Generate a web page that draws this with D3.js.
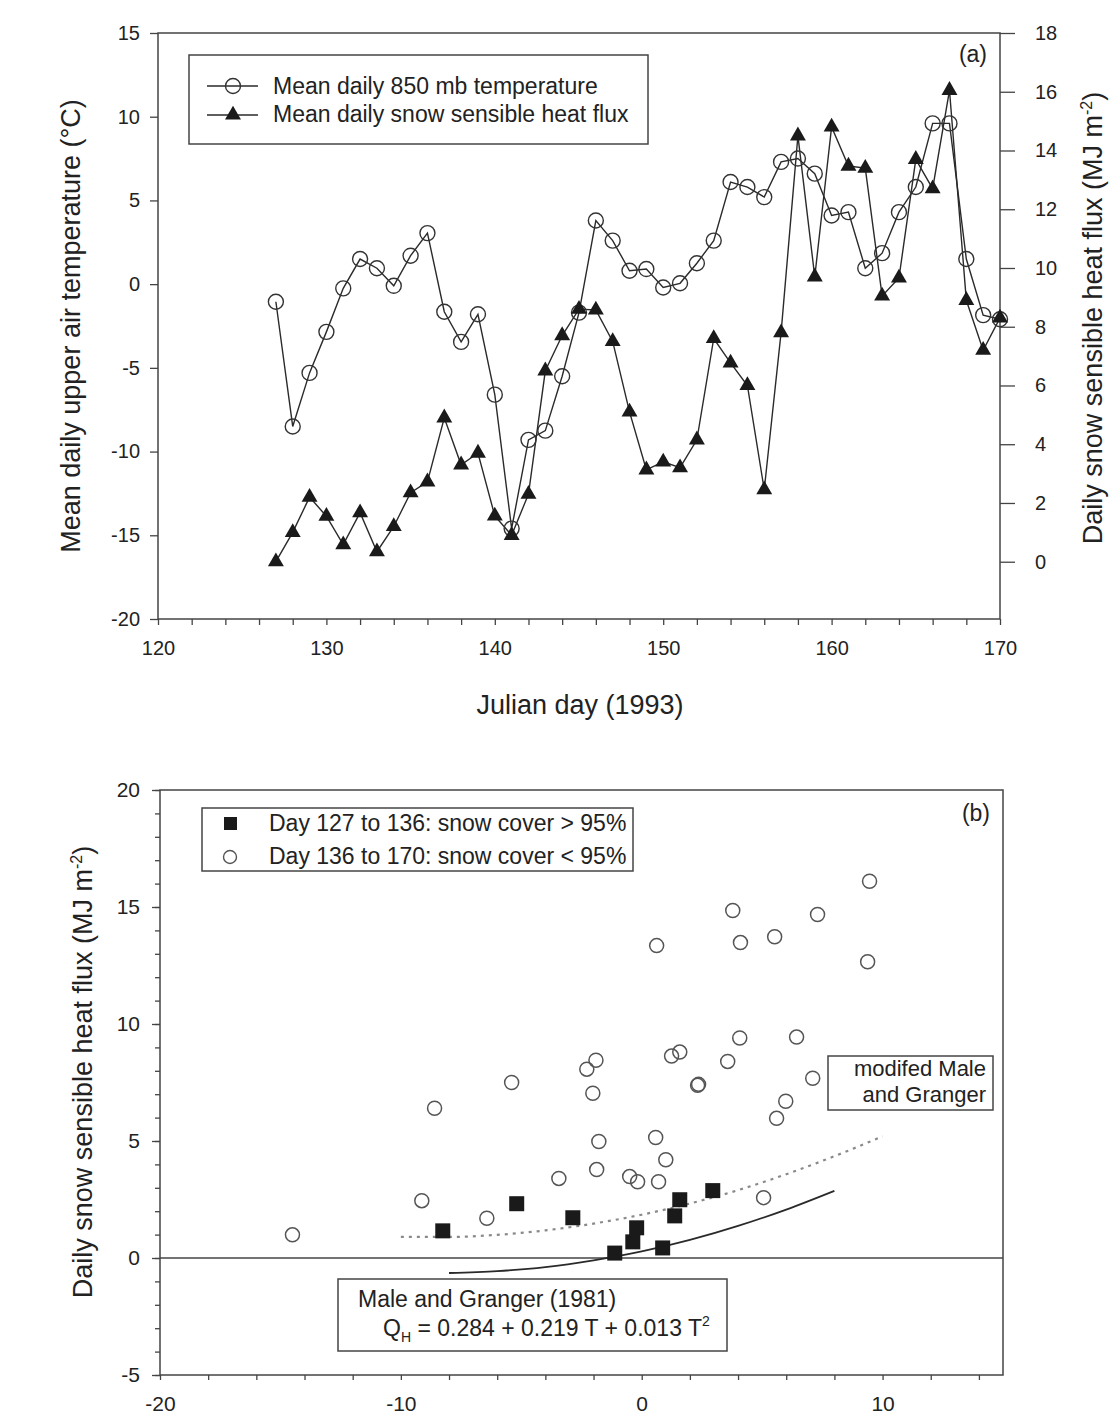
<!DOCTYPE html>
<html>
<head>
<meta charset="utf-8">
<script src="https://cdn.jsdelivr.net/npm/d3@7"></script>
<style>
  body { margin: 0; background: #fff; }
  svg text { font-family: "Liberation Sans", Arial, sans-serif; fill: #222; }
</style>
</head>
<body>
<div id="chart"></div>
<script>
// --- panel (a): daily series, Julian day 127..170 (1993)
const days = [127,128,129,130,131,132,133,134,135,136,137,138,139,140,141,142,143,144,145,146,147,148,
              149,150,151,152,153,154,155,156,157,158,159,160,161,162,163,164,165,166,167,168,169,170];
const temp850 = [-1.05,-8.5,-5.3,-2.85,-0.25,1.5,0.95,-0.1,1.7,3.05,-1.65,-3.45,-1.8,-6.6,-14.6,-9.3,-8.75,-5.5,
                 -1.7,3.8,2.6,0.8,0.9,-0.2,0.05,1.25,2.6,6.1,5.8,5.2,7.3,7.5,6.6,4.1,4.3,0.95,1.85,4.3,5.8,9.6,9.6,1.5,-1.85,-2.1];
const fluxDaily = [0.0,1.0,2.2,1.55,0.58,1.67,0.34,1.2,2.35,2.72,4.9,3.3,3.7,1.56,0.9,2.3,6.5,7.7,8.6,8.57,7.5,5.1,
                   3.13,3.4,3.2,4.15,7.6,6.77,6.0,2.45,7.8,14.5,9.7,14.8,13.47,13.4,9.05,9.66,13.7,12.7,16.05,8.9,7.2,8.3];

const ticksDayA = [120,130,140,150,160,170];
const ticksTempA = [-20,-15,-10,-5,0,5,10,15];
const ticksFluxA = [0,2,4,6,8,10,12,14,16,18];

// --- panel (b): scatter of flux vs temperature
const snowHighT = [-8.26,-5.19,-2.86,-1.12,-0.37,-0.21,0.87,1.37,1.58,2.95];
const snowHighQ = [1.16,2.32,1.72,0.21,0.69,1.29,0.43,1.8,2.49,2.88];
const snowLowT = [-14.5,-9.13,-8.6,-6.43,-5.4,-3.44,-2.28,-2.03,-1.9,-1.87,-1.78,-0.5,-0.17,0.58,0.62,0.7,1.0,
                  1.24,1.58,2.32,2.36,3.57,3.78,4.07,4.1,5.06,5.52,5.6,5.98,6.43,7.1,7.3,9.38,9.46];
const snowLowQ = [0.99,2.45,6.4,1.7,7.5,3.4,8.07,7.04,8.45,3.78,4.98,3.48,3.26,5.15,13.35,3.26,4.2,
                  8.63,8.8,7.38,7.42,8.4,14.85,9.4,13.48,2.58,13.73,5.97,6.7,9.44,7.68,14.68,12.66,16.1];

// curves
const mgT = [-8,-6,-4,-2,0,2,4,6,8];
const mgQ = [-0.64,-0.56,-0.39,-0.1,0.28,0.77,1.37,2.07,2.87];
const modT = [-10,-8,-6,-4,-2,0,2,4,6,8,10];
const modQ = [0.9,0.9,0.99,1.18,1.47,1.85,2.33,2.9,3.58,4.35,5.2];

const ticksTB = [-20,-10,0,10];
const ticksQB = [-5,0,5,10,15,20];

const W = 1120, H = 1420;
const ink = "#2a2a2a";
const plain = d => String(d);   // hyphen minus, like the original

const svg = d3.select("#chart").append("svg")
  .attr("width", W).attr("height", H)
  .attr("viewBox", `0 0 ${W} ${H}`);
svg.append("rect").attr("width", W).attr("height", H).attr("fill", "#fff");

function styleAxis(g, fs) {
  g.select(".domain").remove();
  g.selectAll(".tick line").attr("stroke", "#444").attr("stroke-width", 1.3);
  g.selectAll(".tick text").style("font-size", fs + "px").attr("fill", "#222");
}

// ================= PANEL (a) =================
const xA = d3.scaleLinear().domain([120, 170]).range([158, 1000]);
const yT = d3.scaleLinear().domain([-20, 15]).range([619, 33]);
const yF = d3.scaleLinear().domain([-1.95, 18]).range([619, 33]);

const gA = svg.append("g");

gA.append("g").attr("transform", "translate(158,0)")
  .call(d3.axisLeft(yT).tickValues(ticksTempA).tickSize(8).tickPadding(10).tickFormat(plain))
  .call(g => styleAxis(g, 20));

gA.append("g").attr("transform", "translate(1000,0)")
  .call(d3.axisRight(yF).tickValues(ticksFluxA).tickSize(15).tickPadding(20).tickFormat(plain))
  .call(g => styleAxis(g, 20));

gA.append("g").attr("transform", "translate(0,619)")
  .call(d3.axisBottom(xA).tickValues(d3.range(120, 171, 2)).tickSize(6).tickPadding(16)
    .tickFormat(d => ticksDayA.includes(d) ? String(d) : ""))
  .call(g => styleAxis(g, 20));

// frame
gA.append("rect").attr("x", 158).attr("y", 33).attr("width", 842).attr("height", 586)
  .attr("fill", "none").attr("stroke", "#444").attr("stroke-width", 1.5);

const rowsA = days.map((d, i) => ({ day: d, t: temp850[i], q: fluxDaily[i] }));

gA.append("path").datum(rowsA)
  .attr("fill", "none").attr("stroke", ink).attr("stroke-width", 1.4)
  .attr("d", d3.line().x(d => xA(d.day)).y(d => yT(d.t)));
gA.append("path").datum(rowsA)
  .attr("fill", "none").attr("stroke", ink).attr("stroke-width", 1.4)
  .attr("d", d3.line().x(d => xA(d.day)).y(d => yF(d.q)));

gA.selectAll(".tc").data(rowsA).join("circle")
  .attr("cx", d => xA(d.day)).attr("cy", d => yT(d.t)).attr("r", 7.5)
  .attr("fill", "none").attr("stroke", "#333").attr("stroke-width", 1.4);

const tri = d3.symbol().type(d3.symbolTriangle).size(110);
gA.selectAll(".tf").data(rowsA).join("path")
  .attr("transform", d => `translate(${xA(d.day)},${yF(d.q)})`)
  .attr("d", tri).attr("fill", "#1a1a1a");

// legend (a)
const legA = gA.append("g");
legA.append("rect").attr("x", 189).attr("y", 55).attr("width", 459).attr("height", 89)
  .attr("fill", "#fff").attr("stroke", "#444").attr("stroke-width", 1.5);
[86, 115].forEach(yy => {
  legA.append("line").attr("x1", 207).attr("x2", 258).attr("y1", yy).attr("y2", yy)
    .attr("stroke", ink).attr("stroke-width", 1.4);
});
legA.append("circle").attr("cx", 233).attr("cy", 86).attr("r", 7.5)
  .attr("fill", "none").attr("stroke", "#333").attr("stroke-width", 1.4);
legA.append("path").attr("transform", "translate(233,115)").attr("d", tri).attr("fill", "#1a1a1a");
legA.append("text").attr("x", 273).attr("y", 94).style("font-size", "23px")
  .text("Mean daily 850 mb temperature");
legA.append("text").attr("x", 273).attr("y", 122).style("font-size", "23px")
  .text("Mean daily snow sensible heat flux");

gA.append("text").attr("x", 987).attr("y", 62).attr("text-anchor", "end")
  .style("font-size", "23px").text("(a)");

// titles (a)
gA.append("text").attr("transform", "translate(80,326) rotate(-90)")
  .attr("text-anchor", "middle").style("font-size", "27px")
  .text("Mean daily upper air temperature (°C)");

const rtA = gA.append("text").attr("transform", "translate(1102,318) rotate(-90)")
  .attr("text-anchor", "middle").style("font-size", "27px");
rtA.append("tspan").text("Daily snow sensible heat flux (MJ m");
rtA.append("tspan").attr("dy", -10).style("font-size", "16px").text("-2");
rtA.append("tspan").attr("dy", 10).text(")");

gA.append("text").attr("x", 580).attr("y", 714).attr("text-anchor", "middle")
  .style("font-size", "27px").text("Julian day (1993)");

// ================= PANEL (b) =================
const xB = d3.scaleLinear().domain([-20, 15]).range([160, 1003]);
const yB = d3.scaleLinear().domain([-5, 20]).range([1375, 790]);

const gB = svg.append("g");

gB.append("g").attr("transform", "translate(160,0)")
  .call(d3.axisLeft(yB).tickValues(d3.range(-5, 21, 1)).tickSize(5).tickFormat(""))
  .call(g => styleAxis(g, 20));
gB.append("g").attr("transform", "translate(160,0)")
  .call(d3.axisLeft(yB).tickValues(ticksQB).tickSize(8).tickPadding(12).tickFormat(plain))
  .call(g => styleAxis(g, 21));

gB.append("g").attr("transform", "translate(0,1375)")
  .call(d3.axisBottom(xB).tickValues(d3.range(-20, 16, 2)).tickSize(5).tickPadding(16)
    .tickFormat(d => ticksTB.includes(d) ? String(d) : ""))
  .call(g => styleAxis(g, 21));

gB.append("rect").attr("x", 160).attr("y", 790).attr("width", 843).attr("height", 585)
  .attr("fill", "none").attr("stroke", "#444").attr("stroke-width", 1.5);

gB.append("line").attr("x1", xB(-20)).attr("x2", xB(15)).attr("y1", yB(0)).attr("y2", yB(0))
  .attr("stroke", "#444").attr("stroke-width", 1.6);

// curves
const modPts = modT.map((t, i) => [t, modQ[i]]);
gB.append("path").datum(modPts)
  .attr("fill", "none").attr("stroke", "#8a8a8a").attr("stroke-width", 2.2)
  .attr("stroke-dasharray", "3,5")
  .attr("d", d3.line().curve(d3.curveMonotoneX).x(d => xB(d[0])).y(d => yB(d[1])));

const mgPts = mgT.map((t, i) => [t, mgQ[i]]);
gB.append("path").datum(mgPts)
  .attr("fill", "none").attr("stroke", "#2a2a2a").attr("stroke-width", 1.8)
  .attr("d", d3.line().curve(d3.curveMonotoneX).x(d => xB(d[0])).y(d => yB(d[1])));

// points
const lowPts = snowLowT.map((t, i) => [t, snowLowQ[i]]);
gB.selectAll(".lp").data(lowPts).join("circle")
  .attr("cx", d => xB(d[0])).attr("cy", d => yB(d[1])).attr("r", 7)
  .attr("fill", "none").attr("stroke", "#555").attr("stroke-width", 1.5);

const highPts = snowHighT.map((t, i) => [t, snowHighQ[i]]);
gB.selectAll(".hp").data(highPts).join("rect")
  .attr("x", d => xB(d[0]) - 7.5).attr("y", d => yB(d[1]) - 7.5)
  .attr("width", 15).attr("height", 15).attr("fill", "#1a1a1a");

// legend (b)
const legB = gB.append("g");
legB.append("rect").attr("x", 202).attr("y", 808).attr("width", 431).attr("height", 63)
  .attr("fill", "#fff").attr("stroke", "#444").attr("stroke-width", 1.5);
legB.append("rect").attr("x", 224).attr("y", 817).attr("width", 13).attr("height", 13).attr("fill", "#1a1a1a");
legB.append("circle").attr("cx", 230).attr("cy", 857).attr("r", 6.5)
  .attr("fill", "none").attr("stroke", "#555").attr("stroke-width", 1.4);
legB.append("text").attr("x", 269).attr("y", 831).style("font-size", "23px")
  .text("Day 127 to 136: snow cover > 95%");
legB.append("text").attr("x", 269).attr("y", 864).style("font-size", "23px")
  .text("Day 136 to 170: snow cover < 95%");

gB.append("text").attr("x", 990).attr("y", 821).attr("text-anchor", "end")
  .style("font-size", "23px").text("(b)");

// annotation boxes
gB.append("rect").attr("x", 828).attr("y", 1056).attr("width", 165).attr("height", 54)
  .attr("fill", "#fff").attr("stroke", "#444").attr("stroke-width", 1.5);
gB.append("text").attr("x", 986).attr("y", 1076).attr("text-anchor", "end")
  .style("font-size", "22px").text("modifed Male");
gB.append("text").attr("x", 986).attr("y", 1102).attr("text-anchor", "end")
  .style("font-size", "22px").text("and Granger");

gB.append("rect").attr("x", 338).attr("y", 1279).attr("width", 389).attr("height", 72)
  .attr("fill", "#fff").attr("stroke", "#444").attr("stroke-width", 1.5);
gB.append("text").attr("x", 358).attr("y", 1307).style("font-size", "23px")
  .text("Male and Granger (1981)");
const eq = gB.append("text").attr("x", 383).attr("y", 1336).style("font-size", "23px");
eq.append("tspan").text("Q");
eq.append("tspan").attr("dy", 6).style("font-size", "14px").text("H");
eq.append("tspan").attr("dy", -6).text(" = 0.284 + 0.219 T + 0.013 T");
eq.append("tspan").attr("dy", -10).style("font-size", "14px").text("2");

const ltB = gB.append("text").attr("transform", "translate(92,1072) rotate(-90)")
  .attr("text-anchor", "middle").style("font-size", "27px");
ltB.append("tspan").text("Daily snow sensible heat flux (MJ m");
ltB.append("tspan").attr("dy", -10).style("font-size", "16px").text("-2");
ltB.append("tspan").attr("dy", 10).text(")");
</script>
</body>
</html>
